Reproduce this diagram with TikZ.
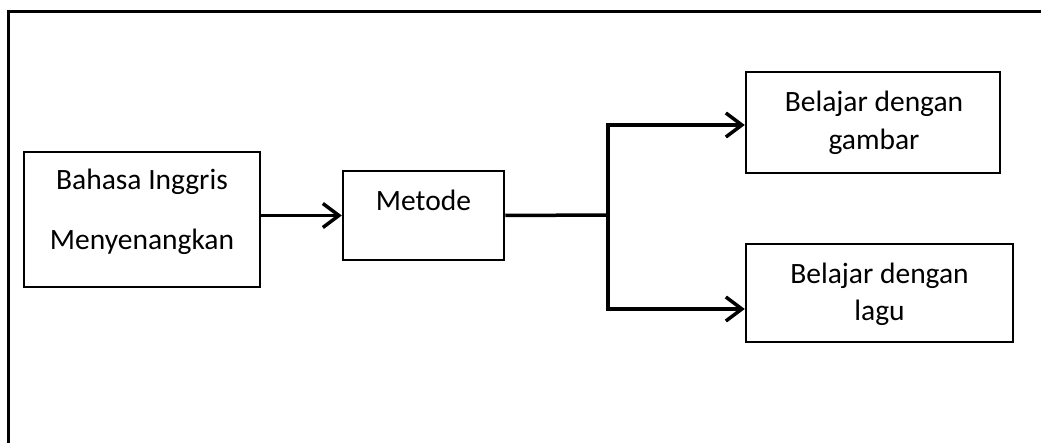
\documentclass[tikz,border=0pt]{standalone}
\usepackage{fontspec}
\setmainfont{Carlito}
\usetikzlibrary{arrows.meta}
\begin{document}
\begin{tikzpicture}[x=1pt,y=-1pt,
 box/.style={draw, line width=2.5pt, inner sep=0pt},
 lbl/.style={anchor=base, inner sep=0pt, font=\fontsize{29.5}{35}\selectfont},
 conn/.style={line width=3.5pt},
 arr/.style={conn, -{Straight Barb[length=16pt,width=24pt,line width=3.5pt]}}]
\useasboundingbox (0,0) rectangle (1041,443);
\begin{scope}
\clip (0,0) rectangle (1041,443);
\draw[line width=3pt] (8,460) -- (8,12) -- (1060,12);
\end{scope}
\node[box, minimum width=236pt, minimum height=135pt] (b1) at (142,219.5) {};
\node[box, minimum width=161pt, minimum height=89pt] (m) at (423.5,215.5) {};
\node[box, minimum width=254pt, minimum height=101pt] (tr) at (873,122.5) {};
\node[box, minimum width=267pt, minimum height=98pt] (br) at (879.5,293) {};
\node[lbl] (t1) at (142,190) {Bahasa Inggris};
\node[lbl] (t2) at (142,250) {Menyenangkan};
\node[lbl] (t3) at (423.5,211) {Metode};
\node[lbl] (t4) at (874,112) {Belajar dengan};
\node[lbl] (t5) at (874,150) {gambar};
\node[lbl] (t6) at (879.5,284) {Belajar dengan};
\node[lbl] (t7) at (879.5,321) {lagu};
\coordinate (j) at (608,215);
\coordinate (ja) at (608,125);
\coordinate (jb) at (608,309);
\draw[arr] (b1.east |- m.west) -- (m.west);
\draw[conn] (m.east) -- (j);
\draw[arr] (j) -- (ja) -- (tr.west |- ja);
\draw[arr] (j) -- (jb) -- (br.west |- jb);
\end{tikzpicture}
\end{document}
